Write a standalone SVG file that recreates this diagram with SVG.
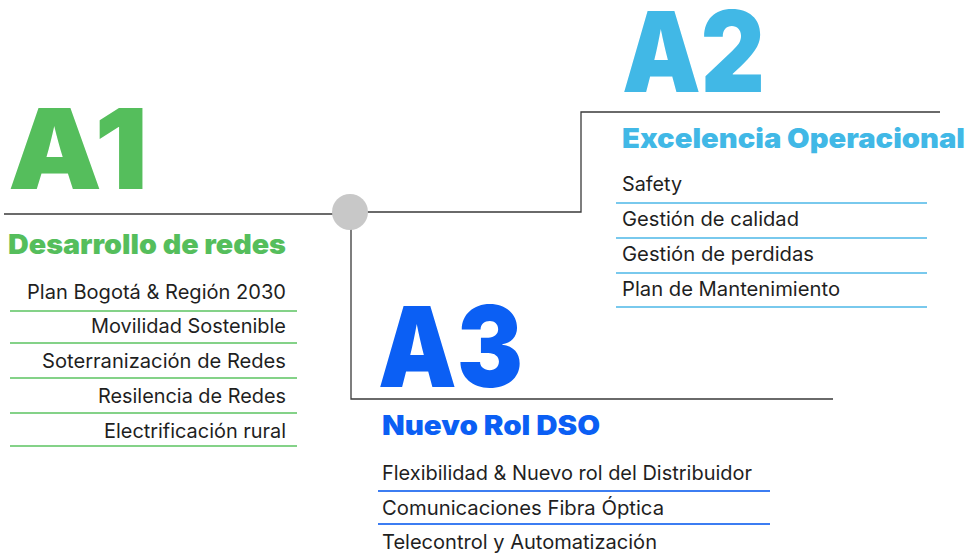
<svg xmlns="http://www.w3.org/2000/svg" width="968" height="555" viewBox="0 0 968 555">
<style>
.big{font-family:Inter,"Liberation Sans",sans-serif;font-weight:900;font-size:112px}
.ttl{font-family:Inter,"Liberation Sans",sans-serif;font-weight:900;font-size:27px}
.item{font-family:Inter,"Liberation Sans",sans-serif;font-weight:400;font-size:20px;fill:#1f1f1f}
.conn{fill:none;stroke:#3a3a3a;stroke-width:1.3}
.g{fill:#55BE5C}.c{fill:#41B8E6}.b{fill:#0B5FF4}
.lg{stroke:#5CC462;stroke-width:1.5}.lc{stroke:#4DB8E8;stroke-width:1.5}.lb{stroke:#3C7DF2;stroke-width:1.8}
</style>
<g id="connectors">
<path class="conn" d="M4 214H335"/>
<path class="conn" d="M366 212H581V112H940"/>
<path class="conn" d="M351 228V399H833"/>
</g>
<g id="hub"><circle cx="350" cy="212" r="18" fill="#C8C8C8"/></g>
<g id="A1">
<text class="big g" x="8" y="189" textLength="140" lengthAdjust="spacingAndGlyphs">A1</text>
<text class="ttl g" x="8" y="254" textLength="278" lengthAdjust="spacingAndGlyphs">Desarrollo de redes</text>
<g text-anchor="end">
<text class="item" x="286" y="299" textLength="259" lengthAdjust="spacingAndGlyphs">Plan Bogotá &amp; Región 2030</text>
<text class="item" x="286" y="333" textLength="195" lengthAdjust="spacingAndGlyphs">Movilidad Sostenible</text>
<text class="item" x="286" y="368" textLength="244" lengthAdjust="spacingAndGlyphs">Soterranización de Redes</text>
<text class="item" x="286" y="403" textLength="188" lengthAdjust="spacingAndGlyphs">Resilencia de Redes</text>
<text class="item" x="286" y="438" textLength="182" lengthAdjust="spacingAndGlyphs">Electrificación rural</text>
</g>
<path class="lg" d="M10 311H297M10 343H297M10 378H297M10 413H297M10 446H297"/>
</g>
<g id="A2">
<text class="big c" x="622" y="92" textLength="143" lengthAdjust="spacingAndGlyphs">A2</text>
<text class="ttl c" x="622" y="148" textLength="343" lengthAdjust="spacingAndGlyphs">Excelencia Operacional</text>
<text class="item" x="622" y="191" textLength="60" lengthAdjust="spacingAndGlyphs">Safety</text>
<text class="item" x="622" y="226" textLength="177" lengthAdjust="spacingAndGlyphs">Gestión de calidad</text>
<text class="item" x="622" y="261" textLength="192" lengthAdjust="spacingAndGlyphs">Gestión de perdidas</text>
<text class="item" x="622" y="296" textLength="218" lengthAdjust="spacingAndGlyphs">Plan de Mantenimiento</text>
<path class="lc" d="M616 203H927M616 238H927M616 273H927M616 307H927"/>
</g>
<g id="A3">
<text class="big b" x="378" y="387" textLength="145" lengthAdjust="spacingAndGlyphs">A3</text>
<text class="ttl b" x="382" y="435" textLength="218" lengthAdjust="spacingAndGlyphs">Nuevo Rol DSO</text>
<text class="item" x="382" y="480" textLength="370" lengthAdjust="spacingAndGlyphs">Flexibilidad &amp; Nuevo rol del Distribuidor</text>
<text class="item" x="382" y="515" textLength="282" lengthAdjust="spacingAndGlyphs">Comunicaciones Fibra Óptica</text>
<text class="item" x="382" y="549" textLength="275" lengthAdjust="spacingAndGlyphs">Telecontrol y Automatización</text>
<path class="lb" d="M378 491H770M378 524H770"/>
</g>
</svg>
